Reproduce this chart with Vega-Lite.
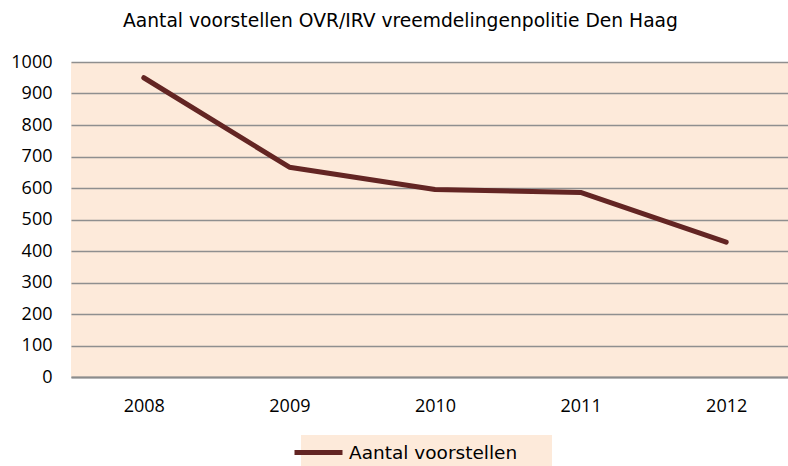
{
  "$schema": "https://vega.github.io/schema/vega-lite/v6.json",
  "width": 728,
  "height": 315,
  "autosize": {"type": "none"},
  "padding": {"left": 71, "top": 62, "right": 0, "bottom": 89},
  "background": "white",
  "title": {
    "text": "Aantal voorstellen OVR/IRV vreemdelingenpolitie Den Haag",
    "anchor": "start",
    "frame": "group",
    "dx": 52,
    "offset": 7,
    "font": "DejaVu Sans",
    "fontSize": 18.7,
    "fontWeight": "normal",
    "color": "black",
    "baseline": "alphabetic"
  },
  "config": {
    "view": {"fill": "#FDEADA", "stroke": null}
  },
  "data": {
    "values": [
      {"year": "2008", "aantal": 950, "reeks": "Aantal voorstellen"},
      {"year": "2009", "aantal": 666, "reeks": "Aantal voorstellen"},
      {"year": "2010", "aantal": 595, "reeks": "Aantal voorstellen"},
      {"year": "2011", "aantal": 586, "reeks": "Aantal voorstellen"},
      {"year": "2012", "aantal": 428, "reeks": "Aantal voorstellen"}
    ]
  },
  "mark": {"type": "line", "strokeWidth": 5, "strokeCap": "round", "strokeJoin": "round"},
  "encoding": {
    "x": {
      "field": "year",
      "type": "ordinal",
      "scale": {"padding": 0.5},
      "axis": {
        "title": null,
        "labelAngle": 0,
        "labelFont": "Open Sans",
        "labelFontSize": 18,
        "labelColor": "black",
        "labelPadding": 20,
        "ticks": false,
        "grid": false,
        "domain": true,
        "domainColor": "#8c8c8c",
        "domainWidth": 2
      }
    },
    "y": {
      "field": "aantal",
      "type": "quantitative",
      "scale": {"domain": [0, 1000], "nice": false},
      "axis": {
        "title": null,
        "format": "d",
        "values": [0, 100, 200, 300, 400, 500, 600, 700, 800, 900, 1000],
        "labelFont": "Open Sans",
        "labelFontSize": 18,
        "labelColor": "black",
        "labelPadding": 19,
        "ticks": false,
        "domain": false,
        "grid": true,
        "gridColor": "#8f8f8f",
        "gridWidth": 1.5
      }
    },
    "color": {
      "field": "reeks",
      "type": "nominal",
      "scale": {"range": ["#632523"]},
      "legend": {
        "orient": "none",
        "legendX": 230,
        "legendY": 373,
        "title": null,
        "fillColor": "#FDEADA",
        "padding": 7,
        "symbolType": "M-5.935,0M27.06,0M0,-1.3M-3,0H3",
        "symbolSize": 256,
        "symbolStrokeWidth": 5,
        "labelFont": "DejaVu Sans",
        "labelFontSize": 18.5,
        "labelColor": "black",
        "labelOffset": 20,
        "labelLimit": 400
      }
    }
  }
}
